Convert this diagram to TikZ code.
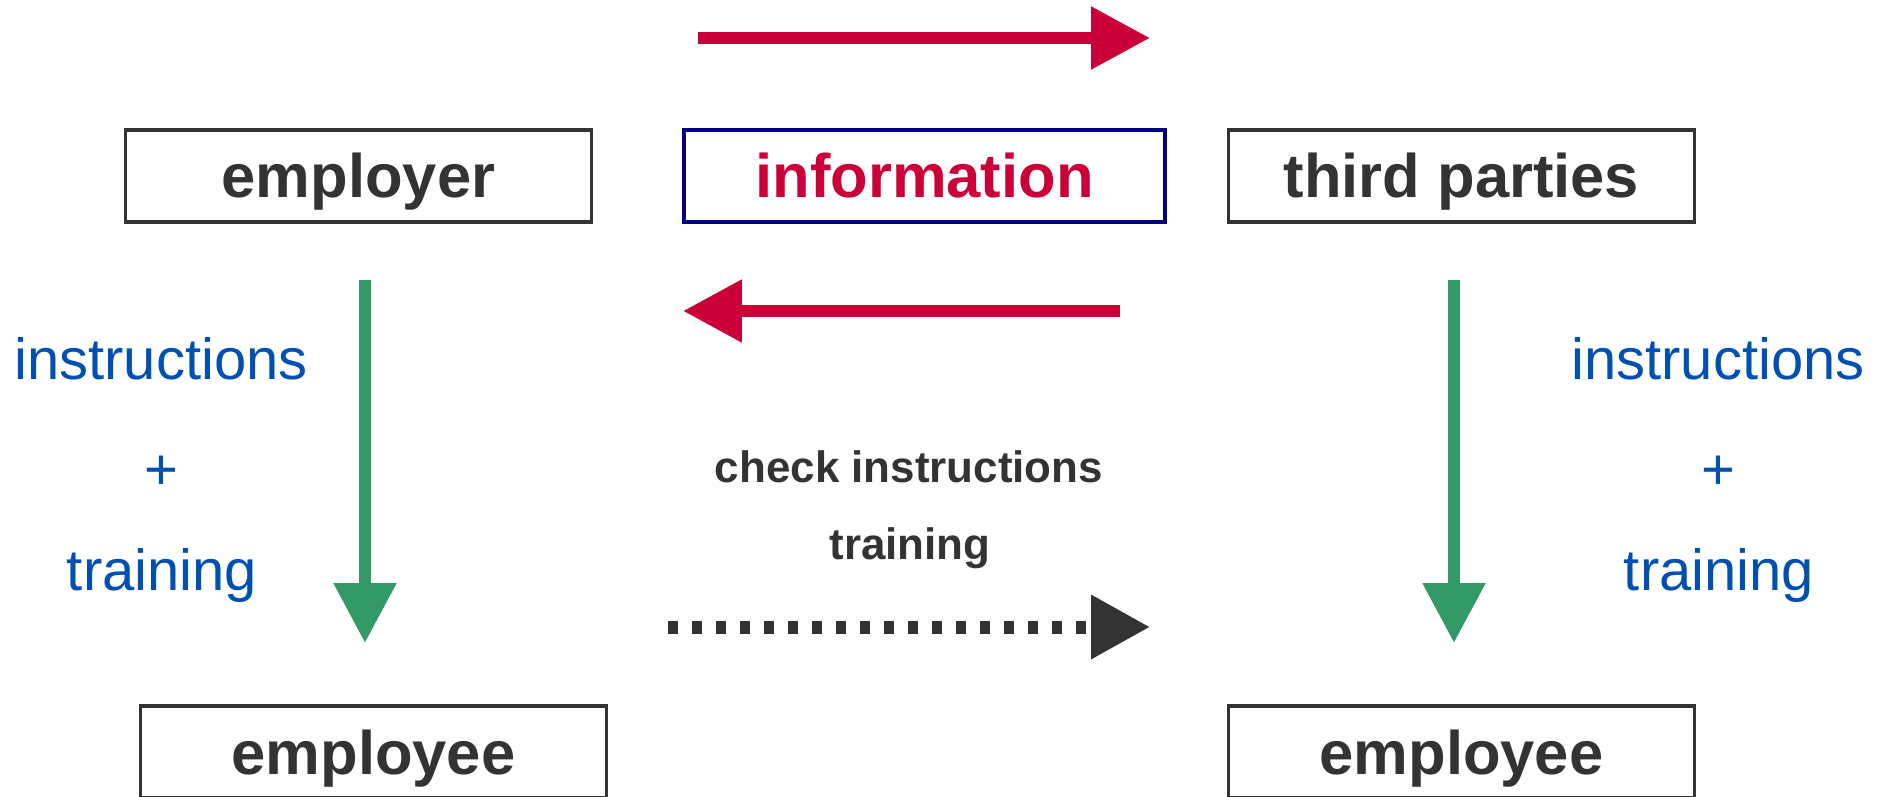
\documentclass[tikz,border=0pt]{standalone}
\usepackage{fontspec}
\setmainfont{Liberation Sans}
\usetikzlibrary{arrows.meta,positioning}
\definecolor{infored}{HTML}{CC0039}
\definecolor{boxgray}{HTML}{333333}
\definecolor{navyline}{HTML}{000080}
\definecolor{noteblue}{HTML}{0050B4}
\definecolor{flowgreen}{HTML}{339966}

\begin{document}
\begin{tikzpicture}[x=0.02cm, y=-0.02cm,
  party/.style={draw=boxgray, line width=2pt, text=boxgray,
    font=\fontsize{35}{40}\selectfont\bfseries, inner sep=0pt,
    minimum width=9.33cm, minimum height=1.85cm,
    text height=1.08cm, text depth=0.2cm},
  note/.style={text=noteblue, font=\fontsize{33}{38}\selectfont, anchor=base, inner sep=0pt},
  check/.style={text=boxgray, font=\fontsize{25}{30}\selectfont\bfseries, anchor=base, inner sep=0pt},
  redflow/.style={draw=infored, line width=0.24cm, -{Triangle[length=1.18cm, width=1.2cm]}},
  greenflow/.style={draw=flowgreen, line width=0.24cm, -{Triangle[length=1.2cm, width=1.2cm]}}]
\useasboundingbox (0,0) rectangle (1877,797);

	% boxes
	\node[party] (employer) at (358.5,176) {employer};
	\node[party, draw=navyline, text=infored, minimum width=9.63cm] (info) at (924.5,176) {information};
	\node[party] (third) at (1461.5,176) {third parties};
	\node[party] (worker1) at (373.5,752) {employee};
	\node[party] (worker2) at (1461.5,752) {employee};

	% labels
	\node[note] (instr1) at (161,379) {instructions};
	\node[note] (plus1) at (161,489) {+};
	\node[note] (train1) at (162,590) {training};
	\node[note] (instr2) at (1718,379) {instructions};
	\node[note] (plus2) at (1718,489) {+};
	\node[note] (train2) at (1719,590) {training};
	\node[check] (checkinstr) at (909,482) {check instructions};
	\node[check] (checktrain) at (910,559) {training};

	% arrow ends
	\coordinate (infotail) at (698,38);
	\coordinate (infohead) at (1150,38);
	\coordinate (backtail) at (1120,311);
	\coordinate (backhead) at (683,311);
	\coordinate (checktail) at (668,627);
	\coordinate (checkhead) at (1150,627);
	\coordinate (leftstart) at (365,280);
	\coordinate (leftend) at (365,643);
	\coordinate (rightstart) at (1454,280);
	\coordinate (rightend) at (1454,643);

	\draw[redflow] (infotail) -- (infohead);
	\draw[redflow] (backtail) -- (backhead);
	\draw[greenflow] (leftstart) -- (leftend);
	\draw[greenflow] (rightstart) -- (rightend);
	\draw[draw=boxgray, line width=0.26cm, dash pattern=on 0.2cm off 0.28cm,
	  -{Triangle[length=1.18cm, width=1.22cm]}] (checktail) -- (checkhead);
\end{tikzpicture}
\end{document}
